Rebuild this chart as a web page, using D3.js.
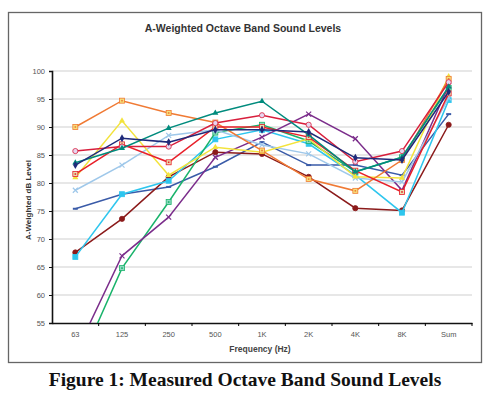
<!DOCTYPE html>
<html>
<head>
<meta charset="utf-8">
<script src="https://cdn.jsdelivr.net/npm/d3@7"></script>
<style>
  body { margin: 0; background: #fff; }
  svg { display: block; }
</style>
</head>
<body>
<div id="chart"></div>
<script>
const bands = ["63", "125", "250", "500", "1K", "2K", "4K", "8K", "Sum"];
const yTicks = [55, 60, 65, 70, 75, 80, 85, 90, 95, 100];

const orange   = [90.0, 94.7, 92.5, 90.8, 85.8, 80.7, 78.6, 84.1, 98.6];
const yellow   = [81.0, 91.1, 81.4, 86.4, 85.5, 87.9, 81.1, 80.9, 99.0];
const teal     = [83.6, 86.2, 89.8, 92.5, 94.6, 88.6, 82.0, 84.6, 97.2];
const navy     = [83.2, 88.0, 87.3, 89.5, 89.5, 89.1, 84.5, 84.1, 96.3];
const red      = [81.6, 86.9, 83.7, 90.0, 90.0, 88.2, 82.2, 78.4, 96.0];
const crimson  = [85.7, 86.5, 86.5, 90.7, 92.1, 90.4, 83.8, 85.7, 98.0];
const ltblue   = [78.7, 83.2, 88.5, 89.5, 86.8, 85.2, 80.9, 80.2, 95.2];
const blue     = [75.4, 78.0, 79.3, 82.9, 87.3, 83.2, 83.2, 81.4, 92.3];
const cyan     = [66.8, 78.0, 80.4, 87.8, 89.5, 87.0, 81.4, 74.7, 94.8];
const maroon   = [67.6, 73.6, 81.1, 85.5, 85.2, 81.1, 75.5, 75.1, 90.4];
const green    = [46.0, 64.8, 76.6, 89.0, 90.4, 87.5, 82.0, 84.6, 97.0];
const purple   = [49.5, 67.0, 73.9, 84.6, 88.2, 92.3, 87.9, 78.7, 97.4];

const series = [
  { values: blue,    color: "#3a5ba8", marker: "dash",     fill: "#3a5ba8" },
  { values: maroon,  color: "#8b1a1a", marker: "circle",   fill: "#8b1a1a" },
  { values: cyan,    color: "#2ec6ee", marker: "square",   fill: "#2ec6ee" },
  { values: green,   color: "#19b36b", marker: "square",   fill: "#8fd9c0" },
  { values: purple,  color: "#7b2d8b", marker: "cross",    fill: "#7b2d8b" },
  { values: ltblue,  color: "#9fc8ea", marker: "cross",    fill: "#9fc8ea" },
  { values: yellow,  color: "#f3e33c", marker: "triangle", fill: "#f3e33c" },
  { values: orange,  color: "#f07a34", marker: "square",   fill: "#f5e07a" },
  { values: red,     color: "#e8202a", marker: "square",   fill: "#e7e0b0" },
  { values: crimson, color: "#d81e3c", marker: "circle",   fill: "#e6d6f0" },
  { values: teal,    color: "#008b7d", marker: "triangle", fill: "#008b7d" },
  { values: navy,    color: "#1f2a7a", marker: "diamond",  fill: "#1f2a7a" }
];

const W = 491, H = 397;
const plot = { left: 52, right: 472, top: 71, bottom: 323 };

const svg = d3.select("#chart").append("svg")
  .attr("width", W)
  .attr("height", H);

// frame
svg.append("rect")
  .attr("x", 8.5).attr("y", 12.5)
  .attr("width", 473).attr("height", 350)
  .attr("fill", "none")
  .attr("stroke", "#666")
  .attr("stroke-width", 1.3);

svg.append("text")
  .attr("x", 243).attr("y", 32)
  .attr("text-anchor", "middle")
  .style("font-family", "Liberation Sans, Arial, sans-serif")
  .style("font-size", "10.5px")
  .style("font-weight", "bold")
  .style("fill", "#333")
  .text("A-Weighted Octave Band Sound Levels");

const x = d3.scaleBand()
  .domain(bands)
  .range([plot.left, plot.right]);

const y = d3.scaleLinear()
  .domain([55, 100])
  .range([plot.bottom, plot.top]);

// grid
svg.append("g")
  .selectAll("line")
  .data(yTicks.slice(1))
  .join("line")
  .attr("x1", plot.left).attr("x2", plot.right)
  .attr("y1", d => y(d)).attr("y2", d => y(d))
  .attr("stroke", "#cfcfcf")
  .attr("stroke-width", 1.2);

// axes
const yAxis = svg.append("g")
  .attr("transform", `translate(${plot.left},0)`)
  .call(d3.axisLeft(y).tickValues(yTicks).tickSize(3).tickPadding(4));

const xAxis = svg.append("g")
  .attr("transform", `translate(0,${plot.bottom})`)
  .call(d3.axisBottom(x).tickSize(0).tickPadding(9));

xAxis.append("g")
  .selectAll("line")
  .data(bands)
  .join("line")
  .attr("x1", d => x(d) + x.bandwidth())
  .attr("x2", d => x(d) + x.bandwidth())
  .attr("y1", 0).attr("y2", 3)
  .attr("stroke", "#000");

[yAxis, xAxis].forEach(a => {
  a.select(".domain").attr("stroke", "#111").attr("stroke-width", 1.6);
  a.selectAll("text")
    .style("font-family", "Liberation Sans, Arial, sans-serif")
    .style("font-size", "7.5px")
    .style("fill", "#555");
});
yAxis.selectAll(".tick line").attr("stroke", "#111");

// lines
svg.append("defs").append("clipPath")
  .attr("id", "plot-clip")
  .append("rect")
  .attr("x", plot.left).attr("y", plot.top - 10)
  .attr("width", plot.right - plot.left + 10)
  .attr("height", plot.bottom - plot.top + 10);

const cx = d => x(d) + x.bandwidth() / 2;
const line = d3.line()
  .x((d, i) => cx(bands[i]))
  .y(d => y(d));

const g = svg.append("g").attr("clip-path", "url(#plot-clip)");

series.forEach(s => {
  g.append("path")
    .datum(s.values)
    .attr("d", line)
    .attr("fill", "none")
    .attr("stroke", s.color)
    .attr("stroke-width", 1.5);

  const pts = s.values
    .map((v, i) => ({ v, b: bands[i] }))
    .filter(p => p.v >= 55);

  const m = g.append("g")
    .selectAll("g")
    .data(pts)
    .join("g")
    .attr("transform", p => `translate(${cx(p.b)},${y(p.v)})`);

  if (s.marker === "circle") {
    m.append("circle").attr("r", 2.6)
      .attr("fill", s.fill).attr("stroke", s.color).attr("stroke-width", 0.8);
  } else if (s.marker === "square") {
    m.append("rect").attr("x", -2.5).attr("y", -2.5).attr("width", 5).attr("height", 5)
      .attr("fill", s.fill).attr("stroke", s.color).attr("stroke-width", 0.8);
    m.append("rect").attr("x", -0.8).attr("y", -0.8).attr("width", 1.6).attr("height", 1.6)
      .attr("fill", s.color);
  } else if (s.marker === "triangle") {
    m.append("path").attr("d", d3.symbol(d3.symbolTriangle, 16))
      .attr("fill", s.fill);
  } else if (s.marker === "diamond") {
    m.append("path").attr("d", d3.symbol(d3.symbolDiamond, 18))
      .attr("fill", s.fill);
  } else if (s.marker === "cross") {
    m.append("path").attr("d", "M-2.5,-2.5L2.5,2.5M-2.5,2.5L2.5,-2.5")
      .attr("stroke", s.color).attr("stroke-width", 1.2);
  } else {
    m.append("path").attr("d", "M-2.5,0L2.5,0")
      .attr("stroke", s.color).attr("stroke-width", 2);
  }
});

// axis titles
svg.append("text")
  .attr("x", 260)
  .attr("y", 352)
  .attr("text-anchor", "middle")
  .style("font-family", "Liberation Sans, Arial, sans-serif")
  .style("font-size", "8.5px")
  .style("font-weight", "bold")
  .style("fill", "#444")
  .text("Frequency (Hz)");

svg.append("text")
  .attr("transform", "translate(31,240) rotate(-90)")
  .attr("text-anchor", "start")
  .style("font-family", "Liberation Sans, Arial, sans-serif")
  .style("font-size", "8px")
  .style("font-weight", "bold")
  .style("fill", "#333")
  .text("A-Weighted dB Level");

svg.append("text")
  .attr("x", 245).attr("y", 386)
  .attr("text-anchor", "middle")
  .style("font-family", "Liberation Serif, Times New Roman, serif")
  .style("font-size", "19.5px")
  .style("font-weight", "bold")
  .style("fill", "#111")
  .text("Figure 1:  Measured Octave Band Sound Levels");
</script>
</body>
</html>
